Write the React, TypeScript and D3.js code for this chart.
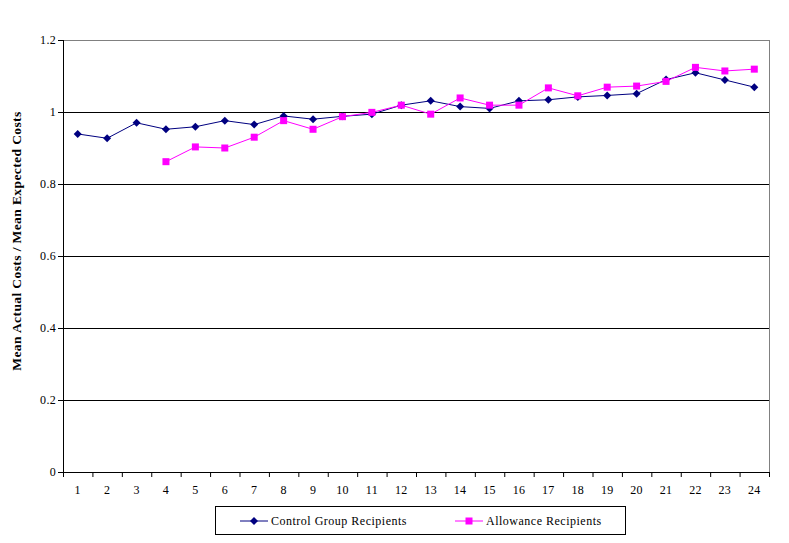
import React from "react";
import * as d3 from "d3";

const categories: number[] = d3.range(1, 25);
const controlValues: (number | null)[] = [
  0.939, 0.927, 0.970, 0.952, 0.959, 0.976, 0.965, 0.989, 0.980, 0.988, 0.994, 1.019,
  1.031, 1.015, 1.010, 1.031, 1.034, 1.042, 1.046, 1.051, 1.090, 1.109, 1.089, 1.069,
];
const allowanceValues: (number | null)[] = [
  null, null, null, 0.862, 0.903, 0.900, 0.930, 0.976, 0.952, 0.987, 0.999, 1.019,
  0.994, 1.039, 1.019, 1.019, 1.067, 1.045, 1.069, 1.072, 1.085, 1.124, 1.114, 1.119,
];
const yTicks: number[] = [0, 0.2, 0.4, 0.6, 0.8, 1, 1.2];
const seriesNames = ["Control Group Recipients", "Allowance Recipients"];

const W = 789, H = 543;
const left = 63, right = 769, top = 40, bottom = 472;
const font = "'Liberation Serif', 'Times New Roman', serif";

export default function App() {
  const x = d3.scaleBand<number>().domain(categories).range([left, right]);
  const y = d3.scaleLinear().domain([0, 1.2]).range([bottom, top]);
  const cx = (c: number) => (x(c) as number) + x.bandwidth() / 2;

  const line = d3
    .line<{ c: number; v: number | null }>()
    .defined((d) => d.v != null)
    .x((d) => cx(d.c))
    .y((d) => y(d.v as number));

  const ctrl = categories.map((c, i) => ({ c, v: controlValues[i] }));
  const allw = categories.map((c, i) => ({ c, v: allowanceValues[i] }));

  const diamond = (px: number, py: number, r = 4) =>
    `M${px},${py - r}L${px + r},${py}L${px},${py + r}L${px - r},${py}Z`;

  return (
    <svg width={W} height={H} style={{ position: "absolute", left: 0, top: 0, background: "#fff" }}>
      <rect x={0} y={0} width={W} height={H} fill="#fff" />
      {yTicks.filter((t) => t > 0 && t < 1.2).map((t) => (
        <line key={t} x1={left} x2={right} y1={y(t) + 0.5} y2={y(t) + 0.5} stroke="#000" strokeWidth={1} />
      ))}
      <line x1={left} x2={right} y1={top + 0.5} y2={top + 0.5} stroke="#808080" />
      <line x1={right + 0.5} x2={right + 0.5} y1={top} y2={bottom} stroke="#808080" />
      <line x1={left + 0.5} x2={left + 0.5} y1={top} y2={bottom} stroke="#000" />
      <line x1={left} x2={right + 1} y1={bottom + 0.5} y2={bottom + 0.5} stroke="#000" />
      {yTicks.map((t) => (
        <g key={t}>
          <line x1={left - 5} x2={left} y1={y(t) + 0.5} y2={y(t) + 0.5} stroke="#000" />
          <text x={left - 7} y={y(t) + 4} textAnchor="end" fontFamily={font} fontSize={12} fill="#000" letterSpacing={0.3}>
            {d3.format("~g")(t)}
          </text>
        </g>
      ))}
      {categories.map((c) => (
        <g key={c}>
          <line x1={(x(c) as number) + 0.5} x2={(x(c) as number) + 0.5} y1={bottom} y2={bottom + 5} stroke="#000" />
          <text x={cx(c)} y={bottom + 22} textAnchor="middle" fontFamily={font} fontSize={12} fill="#000" letterSpacing={0.3}>
            {c}
          </text>
        </g>
      ))}
      <line x1={right + 0.5} x2={right + 0.5} y1={bottom} y2={bottom + 5} stroke="#000" />
      <text
        transform={`translate(21,${(top + bottom) / 2 - 15}) rotate(-90)`}
        textAnchor="middle"
        fontFamily={font}
        fontSize={13.5}
        fontWeight="bold"
        letterSpacing={0.4}
        fill="#000"
      >
        Mean Actual Costs / Mean Expected Costs
      </text>
      <path d={line(ctrl) || ""} fill="none" stroke="#000080" strokeWidth={1} />
      <path d={line(allw) || ""} fill="none" stroke="#FF00FF" strokeWidth={1} />
      {ctrl.filter((d) => d.v != null).map((d) => (
        <path key={d.c} d={diamond(cx(d.c), y(d.v as number))} fill="#000080" />
      ))}
      {allw.filter((d) => d.v != null).map((d) => (
        <rect key={d.c} x={cx(d.c) - 3.5} y={y(d.v as number) - 3.5} width={7} height={7} fill="#FF00FF" />
      ))}
      <rect x={215.5} y={506.5} width={410} height={28} fill="#fff" stroke="#000" />
      <line x1={240} x2={268} y1={521} y2={521} stroke="#000080" />
      <path d={diamond(254, 521)} fill="#000080" />
      <text x={271} y={525} fontFamily={font} fontSize={12} fill="#000" letterSpacing={0.5}>{seriesNames[0]}</text>
      <line x1={455} x2={483} y1={521} y2={521} stroke="#FF00FF" />
      <rect x={465.5} y={517.5} width={7} height={7} fill="#FF00FF" />
      <text x={486} y={525} fontFamily={font} fontSize={12} fill="#000" letterSpacing={0.5}>{seriesNames[1]}</text>
    </svg>
  );
}
